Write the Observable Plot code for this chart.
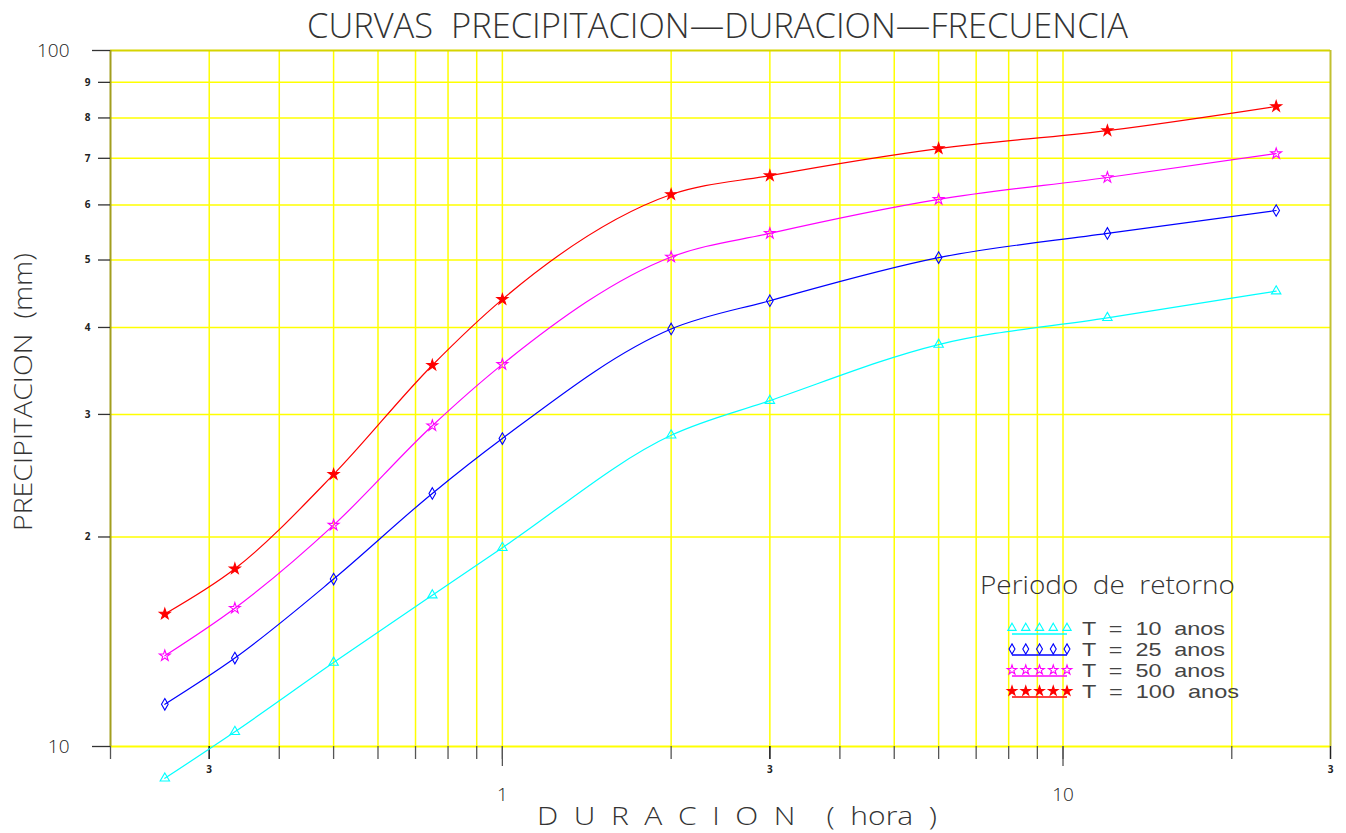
<!DOCTYPE html>
<html>
<head>
<meta charset="utf-8">
<script src="https://cdn.jsdelivr.net/npm/d3@7"></script>
<script src="https://cdn.jsdelivr.net/npm/@observablehq/plot@0.6"></script>
<style>
  html, body { margin: 0; padding: 0; background: #fff; }
  #chart { width: 1346px; height: 833px; }
</style>
</head>
<body>
<div id="chart"></div>
<script>
// ---- Data ----
const durations = [0.25, 1/3, 0.5, 0.75, 1, 2, 3, 6, 12, 24]; // hours
const precipT10  = [9.0, 10.5, 13.2, 16.5, 19.3, 28.0, 31.4, 37.8, 41.3, 45.1];
const precipT25  = [11.5, 13.4, 17.4, 23.1, 27.7, 39.8, 43.7, 50.4, 54.6, 58.9];
const precipT50  = [13.5, 15.8, 20.8, 28.9, 35.4, 50.5, 54.6, 61.1, 65.7, 71.1];
const precipT100 = [15.5, 18.0, 24.6, 35.3, 43.9, 62.1, 66.1, 72.3, 76.7, 83.1];

const seriesNames   = ["T  =  10  anos", "T  =  25  anos", "T  =  50  anos", "T  =  100  anos"];
const seriesValues  = [precipT10, precipT25, precipT50, precipT100];
const seriesColors  = ["#00ffff", "#0000ff", "#ff00ff", "#ff0000"];
const seriesSymbols = ["triangle", "diamond", "star", "star"];
const seriesFilled  = [false, false, false, true];

const xTicks        = [0.2, 0.3, 0.4, 0.5, 0.6, 0.7, 0.8, 0.9, 1, 2, 3, 4, 5, 6, 7, 8, 9, 10, 20, 30];
const xGridValues   = [0.3, 0.4, 0.5, 0.6, 0.7, 0.8, 0.9, 1, 2, 3, 4, 5, 6, 7, 8, 9, 10, 20];
const xSmallLabels  = [0.3, 3, 30];
const xBigLabels    = [1, 10];
const yMinorTicks   = [20, 30, 40, 50, 60, 70, 80, 90];
const yMajorTicks   = [10, 100];

const titleText  = "CURVAS  PRECIPITACION\u2014DURACION\u2014FRECUENCIA";
const xLabelText = "D  U  R  A  C  I  O  N    (  hora  )";
const yLabelText = "PRECIPITACION  (mm)";
const legendTitle = "Periodo  de  retorno";

// ---- Build table ----
const rows = [];
seriesNames.forEach((name, i) => {
  durations.forEach((d, j) => rows.push({series: name, dur: d, p: seriesValues[i][j]}));
});

const FONT = "'Open Sans', Roboto, 'DejaVu Sans', sans-serif";
const LEGEND_FONT = "'Liberation Sans', Arial, sans-serif";

const marks = [
  // grid
  Plot.ruleX(xGridValues, {stroke: "#ffff00", strokeWidth: 1.5}),
  Plot.ruleY(yMinorTicks, {stroke: "#ffff00", strokeWidth: 1.5}),
  Plot.ruleY([10], {stroke: "#ffff00", strokeWidth: 2}),
  Plot.ruleY([100], {stroke: "#d6d400", strokeWidth: 2}),
  Plot.ruleX([0.2], {stroke: "#a29e1e", strokeWidth: 2}),
  Plot.ruleX([30], {stroke: "#c2c030", strokeWidth: 2}),
  // x axis ticks and labels
  Plot.axisX(xTicks, {anchor: "bottom", tickSize: 13, tickFormat: () => "", stroke: "#555", strokeWidth: 1.3, label: null}),
  Plot.axisX(xSmallLabels, {anchor: "bottom", tickSize: 13, tickPadding: 6, tickFormat: () => "3", fontSize: 10, fontWeight: "bold", stroke: "#222", strokeWidth: 1.3, label: null}),
  Plot.axisX(xBigLabels, {anchor: "bottom", tickSize: 20, tickPadding: 21, tickFormat: d => String(d), fontSize: 19, fontWeight: 300, stroke: "#555", strokeWidth: 1.3, label: null}),
  // y axis ticks and labels
  Plot.axisY(yMinorTicks, {anchor: "left", tickSize: 12, tickPadding: 8, tickFormat: d => String(d / 10), fontSize: 10, fontWeight: "bold", stroke: "#333", strokeWidth: 1.3, label: null}),
  Plot.axisY(yMajorTicks, {anchor: "left", tickSize: 18, tickPadding: 23, tickFormat: d => String(d), fontSize: 19, fontWeight: 300, stroke: "#333", strokeWidth: 1.3, label: null})
];

seriesNames.forEach((name, i) => {
  const data = rows.filter(r => r.series === name);
  marks.push(Plot.line(data, {x: "dur", y: "p", stroke: seriesColors[i], strokeWidth: 1.2, curve: "monotone-x"}));
  marks.push(Plot.dot(data, {
    x: "dur", y: "p",
    symbol: () => seriesSymbols[i],
    r: seriesSymbols[i] === "star" ? 3.4 : 3.5,
    stroke: seriesColors[i],
    strokeWidth: 1.1,
    fill: seriesFilled[i] ? seriesColors[i] : "none"
  }));
});

const chart = Plot.plot({
  width: 1346,
  height: 833,
  marginLeft: 110,
  marginRight: 16,
  marginTop: 50,
  marginBottom: 87,
  x: {type: "log", domain: [0.2, 30], axis: null},
  y: {type: "log", domain: [10, 100], axis: null},
  style: {fontFamily: FONT, background: "white", color: "#222", overflow: "visible"},
  marks
});

document.getElementById("chart").appendChild(chart);

// ---- Titles and legend (text annotations) ----
const svg = d3.select(chart);

function addText(g, txt, x, y, size, len, font, extra) {
  const t = g.append("text")
    .attr("x", x).attr("y", y)
    .attr("text-anchor", "start")
    .attr("font-family", font || FONT).attr("font-weight", 300).attr("font-size", size)
    .attr("fill", "#333")
    .style("white-space", "pre")
    .text(txt);
  if (len) t.attr("textLength", len).attr("lengthAdjust", "spacingAndGlyphs");
  if (extra) extra(t);
  return t;
}

addText(svg, titleText, 307, 38, 34, 821);
addText(svg, xLabelText, 537, 825, 25, 400);
addText(svg, yLabelText, 0, 0, 26, 278, null, t => t.attr("x", null).attr("y", null).attr("transform", "translate(32,531) rotate(-90)"));

// legend
const lg = svg.append("g");
addText(lg, legendTitle, 980, 594, 25, 255);

const symbolMap = {triangle: d3.symbolTriangle, diamond: d3.symbolDiamond, star: d3.symbolStar};
const legendY = [628, 649, 670, 691];
const legendTextLen = [143, 143, 143, 157];
seriesNames.forEach((name, i) => {
  const y = legendY[i];
  const r = seriesSymbols[i] === "star" ? 3.0 : 3.1;
  const path = d3.symbol(symbolMap[seriesSymbols[i]], r * r * Math.PI)();
  for (let k = 0; k < 5; k++) {
    lg.append("path")
      .attr("d", path)
      .attr("transform", `translate(${1012 + k * 13.75},${y})`)
      .attr("stroke", seriesColors[i]).attr("stroke-width", 1.1)
      .attr("fill", seriesFilled[i] ? seriesColors[i] : "none");
  }
  lg.append("line")
    .attr("x1", 1012).attr("x2", 1067).attr("y1", y + 6).attr("y2", y + 6)
    .attr("stroke", seriesColors[i]).attr("stroke-width", 1.3);
  addText(lg, name, 1082, y + 7, 18.5, legendTextLen[i], LEGEND_FONT).attr("fill", "#444");
});
</script>
</body>
</html>
